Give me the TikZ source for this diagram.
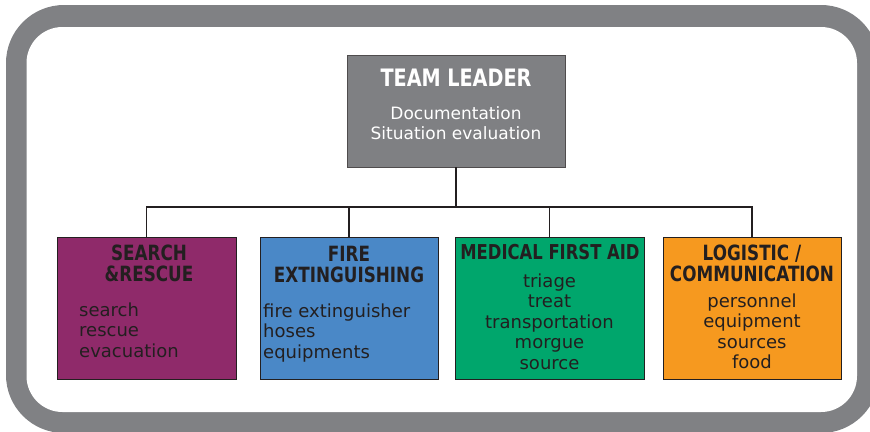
\documentclass[tikz,border=0pt]{standalone}
\usepackage{fontspec}
\setmainfont{DejaVu Sans}
\newfontfamily\headfont[FakeStretch=0.8]{DejaVu Sans}
\usepackage{tikz}
\usepackage{xcolor}

\definecolor{framegray}{HTML}{808184}
\definecolor{leadgray}{HTML}{7F8083}
\definecolor{sarcol}{HTML}{8F2A6A}
\definecolor{firecol}{HTML}{4A88C7}
\definecolor{medcol}{HTML}{00A66C}
\definecolor{logcol}{HTML}{F6991F}
\definecolor{ink}{HTML}{231F20}

\begin{document}
\begin{tikzpicture}[x=1pt, y=-1pt,
  box/.style={draw=ink, line width=0.9, minimum height=142, inner sep=0},
  head/.style={inner sep=0, align=center, text=ink, font=\headfont\bfseries\fontsize{21}{21}\selectfont},
  items/.style={inner sep=0, text=ink, font=\fontsize{18}{20.5}\selectfont},
  wire/.style={draw=ink, line width=1.3}]
\clip (0,0) rectangle (870,431);

% frame
\fill[framegray, rounded corners=58] (6,5) rectangle (879,433);
\fill[white, rounded corners=36] (26.5,27) rectangle (857,412);

% team leader
\node[draw=ink!80, line width=0.9, fill=leadgray, minimum width=218, minimum height=112, inner sep=0] (lead) at (456,111) {};
\node[inner sep=0, text=white, font=\headfont\bfseries\fontsize{24}{24}\selectfont] (leadtitle) at (456,78) {TEAM LEADER};
\node[inner sep=0, align=center, text=white, font=\fontsize{17}{20}\selectfont] (leadtext) at (456,123) {Documentation\\Situation evaluation};

% sections
\node[box, fill=sarcol, minimum width=179] (sar) at (146.5,308) {};
\node[box, fill=firecol, minimum width=178] (fire) at (349,308) {};
\node[box, fill=medcol, minimum width=189] (med) at (549.5,308) {};
\node[box, fill=logcol, minimum width=178] (log) at (752,308) {};

% connectors
\coordinate (bus) at (456,207);
\draw[wire] (lead.south) -- (bus);
\foreach \b in {sar,fire,med,log}
  \draw[wire] (\b.north) |- (bus);

% titles
\node[head] (sartitle) at (149,263.5) {SEARCH\\\&RESCUE};
\node[head] (firetitle) at (349,264.5) {FIRE\\EXTINGUISHING};
\node[head, font=\headfont\bfseries\fontsize{20.5}{21}\selectfont] (medtitle) at (550,252) {MEDICAL FIRST AID};
\node[head] (logtitle) at (752,263) {LOGISTIC /\\COMMUNICATION};

% tasks
\node[items, anchor=west, align=left] (sartext) at (79,330) {search\\rescue\\evacuation};
\node[items, anchor=west, align=left] (firetext) at (263,333) {fire extinguisher\\hoses\\equipments};
\node[items, align=center] (medtext) at (549.5,321.5) {triage\\treat\\transportation\\morgue\\source};
\node[items, align=center] (logtext) at (752,331.5) {personnel\\equipment\\sources\\food};
\end{tikzpicture}
\end{document}
